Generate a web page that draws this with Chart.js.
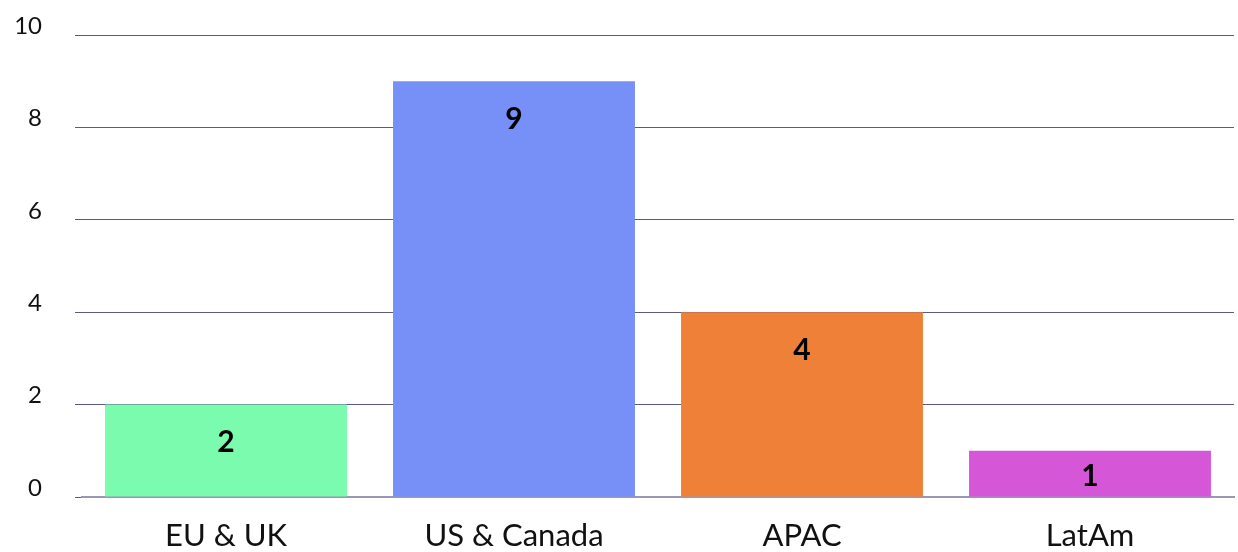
<!DOCTYPE html>
<html>
<head>
<meta charset="utf-8">
<script src="https://cdn.jsdelivr.net/npm/chart.js@4.4.0/dist/chart.umd.min.js"></script>
<style>
  html, body { margin: 0; padding: 0; background: #fff; }
  #wrap { width: 1238px; height: 552px; position: relative; }
</style>
</head>
<body>
<div id="wrap"><canvas id="regionChart"></canvas></div>
<script>
const regions = ['EU & UK', 'US & Canada', 'APAC', 'LatAm'];
const counts = [2, 9, 4, 1];
const barColors = ['#7afbae', '#7690f8', '#ef8038', '#d656d8'];
const yTicks = [0, 2, 4, 6, 8, 10];

// write the count inside each bar, a little below its top
const barValues = {
  id: 'barValues',
  afterDatasetsDraw(chart) {
    const c = chart.ctx;
    const meta = chart.getDatasetMeta(0);
    c.save();
    c.font = 'bold 30px Lato';
    c.fillStyle = '#000';
    c.textAlign = 'center';
    c.textBaseline = 'middle';
    meta.data.forEach((bar, i) => {
      const h = bar.base - bar.y;
      const y = h > 80 ? bar.y + 38 : bar.y + h / 2 + 3;
      c.fillText(String(counts[i]), bar.x, y);
    });
    c.restore();
  }
};

new Chart(document.getElementById('regionChart').getContext('2d'), {
  type: 'bar',
  data: {
    labels: regions,
    datasets: [{
      data: counts,
      backgroundColor: barColors,
      barPercentage: 0.84,
      categoryPercentage: 1
    }]
  },
  options: {
    responsive: true,
    maintainAspectRatio: false,
    animation: false,
    layout: { padding: { top: 0, right: 4, left: 0, bottom: 0 } },
    plugins: { legend: { display: false }, tooltip: { enabled: false } },
    scales: {
      x: {
        afterFit(axis) { axis.height = 55; },
        grid: { display: false },
        border: { display: true, color: '#9a97b4', width: 2 },
        ticks: { color: '#111', font: { family: 'Lato', size: 31 }, padding: 12 }
      },
      y: {
        min: 0,
        max: 10,
        afterBuildTicks(axis) { axis.ticks = yTicks.map(v => ({ value: v })); },
        afterFit(axis) {
          axis.width = 82;
          axis.paddingTop = 35;
          axis.paddingBottom = 0;
        },
        grid: { color: '#5d5a86', lineWidth: 1, tickLength: 7, drawTicks: true },
        border: { display: false },
        ticks: { color: '#111', font: { family: 'Lato', size: 24 }, padding: 33, labelOffset: -9 }
      }
    }
  },
  plugins: [barValues]
});
</script>
</body>
</html>
